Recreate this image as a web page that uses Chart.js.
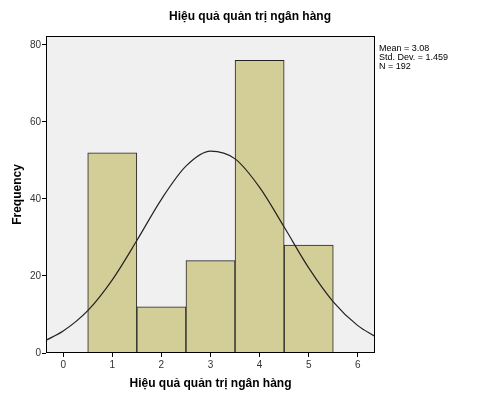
<!DOCTYPE html>
<html><head><meta charset="utf-8">
<script src="https://cdn.jsdelivr.net/npm/chart.js@4/dist/chart.umd.min.js"></script>
<style>html,body{margin:0;padding:0;background:#fff}#w{width:501px;height:401px}</style>
</head><body><div id="w"><canvas id="c"></canvas></div>
<script>
const binCenters = [1, 2, 3, 4, 5];
const frequencies = [52, 12, 24, 76, 28];
const curveX = [-0.35, 0, 0.5, 1, 1.5, 2, 2.5, 3, 3.5, 4, 4.5, 5, 5.5, 6, 6.35];
const curveY = [3.3, 5.7, 11.0, 19.0, 29.2, 39.9, 48.5, 52.4, 50.4, 43.0, 32.7, 22.1, 13.3, 7.1, 4.3];
const xTicks = [0, 1, 2, 3, 4, 5, 6];
const yTicks = [0, 20, 40, 60, 80];
const statsText = ["Mean = 3.08", "Std. Dev. = 1.459", "N = 192"];
const titleText = "Hiệu quả quản trị ngân hàng";

const deco = {
  id: 'deco',
  beforeDatasetsDraw(ch) {
    const a = ch.chartArea, c = ch.ctx;
    c.save(); c.fillStyle = '#f0f0f0';
    c.fillRect(a.left, a.top, a.right - a.left, a.bottom - a.top); c.restore();
  },
  afterDraw(ch) {
    const a = ch.chartArea, c = ch.ctx;
    c.save();
    c.strokeStyle = '#000'; c.lineWidth = 1;
    c.strokeRect(a.left + 0.5, a.top + 0.5, a.right - a.left - 1, a.bottom - a.top - 1);
    c.fillStyle = '#000';
    c.font = 'bold 12px Arial, "Liberation Sans", sans-serif';
    c.textAlign = 'center'; c.textBaseline = 'middle';
    c.fillText(titleText, 250, 17);
    c.font = '9px Arial, "Liberation Sans", sans-serif';
    c.textAlign = 'left';
    statsText.forEach((t, i) => c.fillText(t, 379, 49 + i * 9));
    c.restore();
  }
};

new Chart(document.getElementById('c'), {
  data: {
    datasets: [
      { type: 'bar', data: binCenters.map((x, i) => ({x, y: frequencies[i]})),
        backgroundColor: '#d3ce97', borderColor: '#222', borderWidth: 1,
        barPercentage: 1, categoryPercentage: 1, order: 2 },
      { type: 'line', data: curveX.map((x, i) => ({x, y: curveY[i]})),
        borderColor: '#222', borderWidth: 1.2, pointRadius: 0,
        cubicInterpolationMode: 'monotone', fill: false, order: 1 }
    ]
  },
  options: {
    responsive: true, maintainAspectRatio: false, animation: false,
    layout: { padding: { top: 36, right: 126, left: 0, bottom: 6 } },
    plugins: { legend: { display: false }, tooltip: { enabled: false } },
    scales: {
      x: { type: 'linear', min: -0.35, max: 6.35, offset: false,
        afterBuildTicks: s => { s.ticks = xTicks.map(v => ({value: v})); },
        afterFit: s => { s.height = 42; },
        grid: { display: true, offset: false, drawOnChartArea: false, drawTicks: true, tickLength: 4, color: '#000' },
        border: { display: false },
        ticks: { color: '#333', font: { size: 10, family: 'Arial' }, padding: 2, maxRotation: 0 },
        title: { display: true, text: titleText, color: '#000',
          font: { size: 12, weight: 'bold', family: 'Arial' }, padding: { top: 2 } } },
      y: { min: 0, max: 82.3,
        afterBuildTicks: s => { s.ticks = yTicks.map(v => ({value: v})); },
        afterFit: s => { s.width = 46; },
        grid: { display: true, drawOnChartArea: false, drawTicks: true, tickLength: 4, color: '#000' },
        border: { display: false },
        ticks: { color: '#333', font: { size: 10, family: 'Arial' }, padding: 1 },
        title: { display: true, text: 'Frequency', color: '#000',
          font: { size: 12, weight: 'bold', family: 'Arial' }, padding: { top: 10, bottom: 0 } } }
    }
  },
  plugins: [deco]
});
</script></body></html>
